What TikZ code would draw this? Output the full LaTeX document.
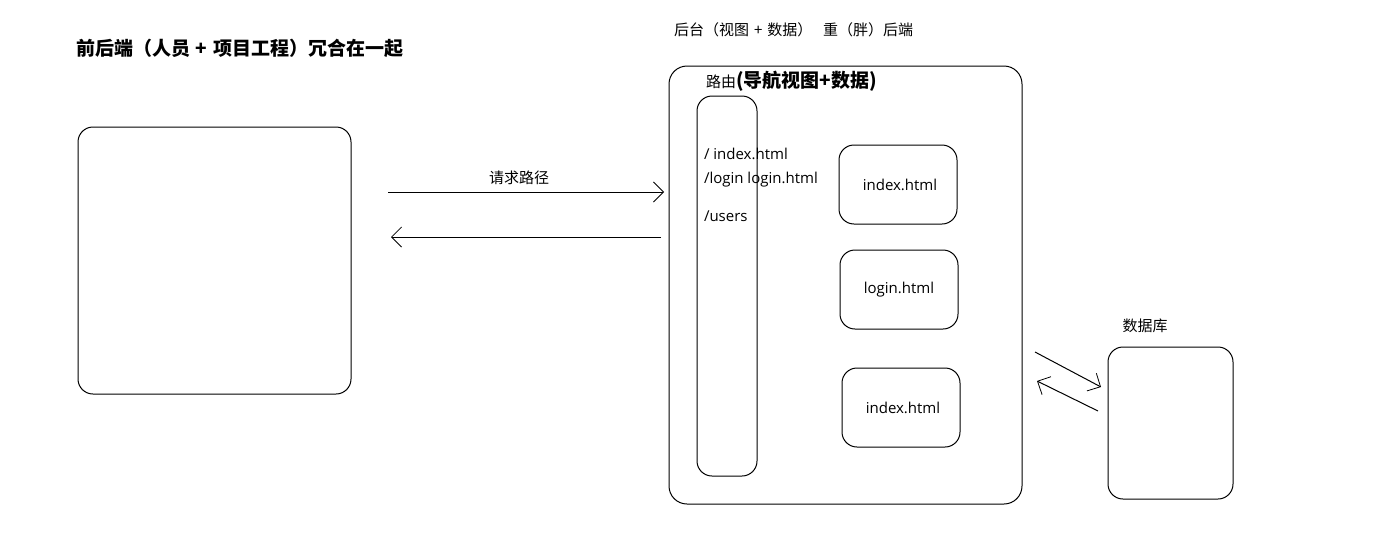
\documentclass[tikz,border=0pt]{standalone}
\usepackage{fontspec}
\setmainfont{Open Sans}
\newfontfamily\cjk{Noto Sans CJK SC}
\usetikzlibrary{arrows.meta}
\begin{document}
\begin{tikzpicture}[x=1pt,y=-1pt,
  every node/.style={inner sep=0pt,outer sep=0pt},
  box/.style={draw=black,line width=1pt,rounded corners=15pt},
  conn/.style={line width=1pt,-{Straight Barb[length=10pt,width=20pt,line width=0.8pt]}},
  cn/.style={font=\cjk\fontsize{15}{17}\selectfont},
  cnb/.style={font=\cjk\bfseries\fontsize{19}{21}\selectfont},
  lat/.style={font=\fontsize{15}{17}\selectfont}]
\useasboundingbox (0,0) rectangle (1382,552);
% title
\node[cnb,anchor=west] (title) at (76,48) {前后端（人员\hspace{6pt}+\hspace{6pt}项目工程）冗合在一起};
% left box
\node[box,minimum width=273pt,minimum height=267pt] (front) at (214.5,260.5) {};
% arrows between
\coordinate (a1s) at (388,192);
\coordinate (a1e) at (664,192);
\coordinate (a2s) at (661,237);
\coordinate (a2e) at (391,237);
\draw[conn] (a1s) -- (a1e);
\draw[conn] (a2s) -- (a2e);
\node[cn] (req) at (519,178) {请求路径};
% top labels
\node[cn,anchor=west] (t1) at (674,30) {后台（视图\hspace{5pt}+\hspace{5pt}数据）};
\node[cn,anchor=west] (t2) at (823,30) {重（胖）后端};
% big box
\node[box,rounded corners=18pt,minimum width=353pt,minimum height=438pt] (back) at (845.5,285) {};
\node[cn,anchor=west] (lu) at (706,82) {路由};
\node[cnb,anchor=west] (lu2) at (736,81) {(导航视图+数据)};
% router capsule
\node[box,minimum width=60pt,minimum height=380pt] (router) at (727,286) {};
\node[lat,anchor=west] (r1) at (704,154) {/ index.html};
\node[lat,anchor=west] (r2) at (704,180) {/login login.html};
\node[lat,anchor=west] (r3) at (704,216) {/users};
% pages
\node[box,minimum width=118pt,minimum height=79pt,lat] (p1) at (898,184.5) {\hspace{4pt}index.html};
\node[box,minimum width=118pt,minimum height=79pt,lat] (p2) at (899,289.5) {login.html};
\node[box,minimum width=118pt,minimum height=79pt,lat] (p3) at (901,407.5) {\hspace{4pt}index.html};
% database
\node[cn] (dbl) at (1145,326) {数据库};
\node[box,minimum width=125pt,minimum height=152pt] (db) at (1170.5,423) {};
\coordinate (d1s) at (1035,352);
\coordinate (d1e) at (1101,387);
\coordinate (d2s) at (1098,411);
\coordinate (d2e) at (1037,381);
\draw[conn] (d1s) -- (d1e);
\draw[conn] (d2s) -- (d2e);
\end{tikzpicture}
\end{document}
